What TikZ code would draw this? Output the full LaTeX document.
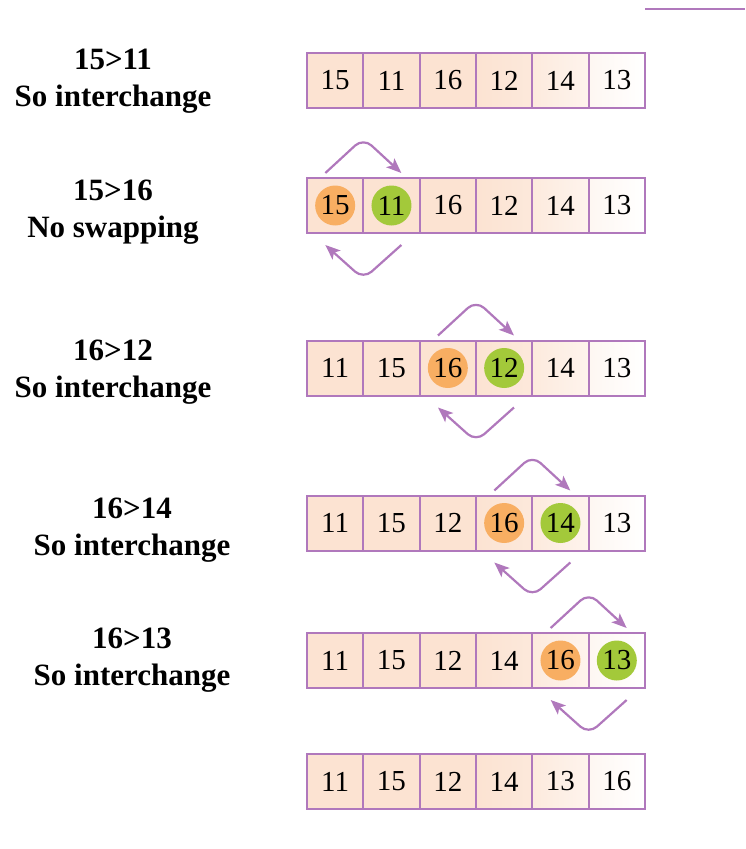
\documentclass[tikz,border=0pt]{standalone}
\usepackage{fontspec}
\setmainfont{Liberation Serif}
\usetikzlibrary{arrows.meta,calc}
\definecolor{lilac}{RGB}{176,120,188}
\definecolor{peach}{RGB}{252,227,210}
\definecolor{orangec}{RGB}{248,174,98}
\definecolor{greenc}{RGB}{163,201,58}
% cell colours from left to right
\colorlet{cl1}{peach}\colorlet{cr1}{peach}
\colorlet{cl2}{peach}\colorlet{cr2}{peach}
\colorlet{cl3}{peach}\colorlet{cr3}{peach}
\colorlet{cl4}{peach}\colorlet{cr4}{peach!80!white}
\colorlet{cl5}{peach!75!white}\colorlet{cr5}{peach!40!white}
\colorlet{cl6}{peach!30!white}\colorlet{cr6}{white}
\tikzset{
  cell/.style={draw=lilac, line width=2pt, minimum width=56.33pt, minimum height=55pt,
    inner sep=0pt, outer sep=0pt, font=\fontsize{29}{32}\selectfont},
  doto/.style={path picture={\fill[orangec] (path picture bounding box.center) circle (20pt);}},
  dotg/.style={path picture={\fill[greenc] (path picture bounding box.center) circle (20pt);}},
  dotn/.style={},
  lbl/.style={align=center, font=\bfseries\fontsize{31}{37}\selectfont},
  swap/.style={draw=lilac, line width=2.2pt, rounded corners=11pt,
    -{Stealth[length=15pt,width=12pt,inset=3.5pt]}}
}
\begin{document}
\begin{tikzpicture}[x=1pt,y=-1pt]
\useasboundingbox (0,0) rectangle (745,849);

% labels
\node[lbl] (l1) at (113,81) {15>11\\So interchange};
\node[lbl] (l2) at (113,212) {15>16\\No swapping};
\node[lbl] (l3) at (113,372.5) {16>12\\So interchange};
\node[lbl] (l4) at (132,530) {16>14\\So interchange};
\node[lbl] (l5) at (132,660) {16>13\\So interchange};

% arrays
\foreach \row/\ya/\vals in {
  1/80.5/{15/n,11/n,16/n,12/n,14/n,13/n},
  2/205.5/{15/o,11/g,16/n,12/n,14/n,13/n},
  3/368/{11/n,15/n,16/o,12/g,14/n,13/n},
  4/523/{11/n,15/n,12/n,16/o,14/g,13/n},
  5/660.5/{11/n,15/n,12/n,14/n,16/o,13/g},
  6/781.5/{11/n,15/n,12/n,14/n,13/n,16/n}}
{
  \foreach \v/\m [count=\k] in \vals
    \node[cell, left color=cl\k, right color=cr\k, dot\m] (r\row-\k)
      at ({307+56.33*(\k-0.5)},\ya) {\v};
}

% swaps
\foreach \row/\k in {2/1,3/3,4/4,5/5}
{
  \draw[swap] ([xshift=-38pt,yshift=5pt]r\row-\k.north east)
    -- ([yshift=40pt]r\row-\k.north east)
    -- ([xshift=38pt,yshift=5pt]r\row-\k.north east);
  \draw[swap] ([xshift=38pt,yshift=-12pt]r\row-\k.south east)
    -- ([yshift=-46pt]r\row-\k.south east)
    -- ([xshift=-38pt,yshift=-12pt]r\row-\k.south east);
}

\draw[lilac, line width=2pt] (645,9) -- (745,9);
\end{tikzpicture}
\end{document}
